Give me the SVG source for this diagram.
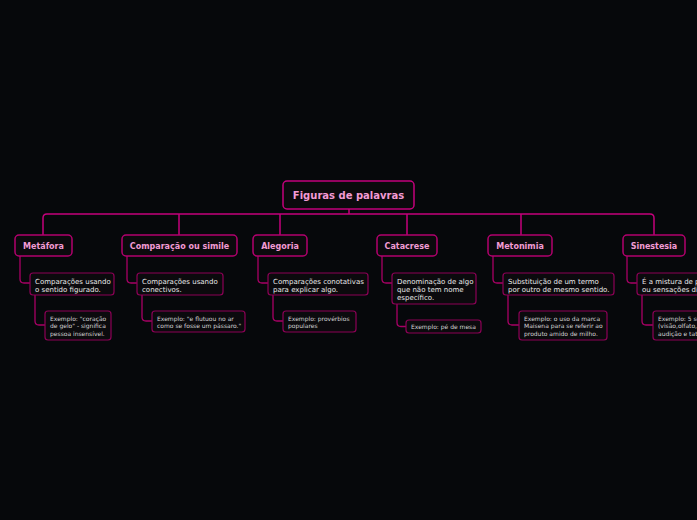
<svg xmlns="http://www.w3.org/2000/svg" width="697" height="520" viewBox="0 0 697 520">
<style>
.bg{fill:#06080b}
.root{fill:#0b0a0d;stroke:#c4007c;stroke-width:1.5}
.main{fill:#0b0a0d;stroke:#b3006e;stroke-width:1.5}
.sub{fill:#0b0a0d;stroke:#8c0056;stroke-width:1.2}
.t-root{font-family:"DejaVu Sans",Verdana,sans-serif;font-weight:bold;font-size:10px;fill:#f29bd4;text-anchor:middle}
.t-main{font-family:"DejaVu Sans",Verdana,sans-serif;font-weight:bold;font-size:8px;fill:#f29bd4;text-anchor:middle}
.t-sub{font-family:"DejaVu Sans",Verdana,sans-serif;font-size:7px;fill:#e8e8e8}
.t-ex{font-family:"DejaVu Sans",Verdana,sans-serif;font-size:6px;fill:#d4d4d4}
.c1{fill:none;stroke:#c4007c;stroke-width:1.5}
.c2{fill:none;stroke:#a80066;stroke-width:1.3}
</style>
<rect class="bg" x="0" y="0" width="697" height="520"/>
<g id="connectors">
<path class="c1" d="M349,209 V214"/>
<path class="c1" d="M43,235 V218 Q43,214 47,214 H650 Q654,214 654,218 V235"/>
<path class="c1" d="M179,214 V235 M280,214 V235 M407,214 V235 M521,214 V235"/>
<path class="c2" d="M20,256 V279 Q20,283 24,283 H30"/>
<path class="c2" d="M127,256 V279 Q127,283 131,283 H137"/>
<path class="c2" d="M258,256 V279 Q258,283 262,283 H268"/>
<path class="c2" d="M382,256 V279 Q382,283 386,283 H392"/>
<path class="c2" d="M493,256 V279 Q493,283 497,283 H503"/>
<path class="c2" d="M627,256 V279 Q627,283 631,283 H637"/>
<path class="c2" d="M35,295 V321 Q35,325 39,325 H45"/>
<path class="c2" d="M142,295 V317 Q142,321 146,321 H152"/>
<path class="c2" d="M273,295 V317 Q273,321 277,321 H283"/>
<path class="c2" d="M397,304 V322.5 Q397,326.5 401,326.5 H406"/>
<path class="c2" d="M508,295 V321 Q508,325 512,325 H519"/>
<path class="c2" d="M642,295 V321 Q642,325 646,325 H653"/>
</g>
<g id="root">
<rect class="root" x="283" y="181" width="131" height="28" rx="4"/>
<text class="t-root" x="348.5" y="198.5">Figuras de palavras</text>
</g>
<g id="metafora">
<rect class="main" x="15" y="235" width="57" height="21" rx="4"/>
<text class="t-main" x="43.5" y="248.5">Metáfora</text>
</g>
<g id="comparacao">
<rect class="main" x="122" y="235" width="115" height="21" rx="4"/>
<text class="t-main" x="179.5" y="248.5">Comparação ou simile</text>
</g>
<g id="alegoria">
<rect class="main" x="253" y="235" width="54" height="21" rx="4"/>
<text class="t-main" x="280" y="248.5">Alegoria</text>
</g>
<g id="catacrese">
<rect class="main" x="377" y="235" width="60" height="21" rx="4"/>
<text class="t-main" x="407" y="248.5">Catacrese</text>
</g>
<g id="metonimia">
<rect class="main" x="488" y="235" width="64" height="21" rx="4"/>
<text class="t-main" x="520" y="248.5">Metonimia</text>
</g>
<g id="sinestesia">
<rect class="main" x="623" y="235" width="62" height="21" rx="4"/>
<text class="t-main" x="654" y="248.5">Sinestesia</text>
</g>
<g id="metafora-def">
<rect class="sub" x="30" y="273" width="84" height="22" rx="3"/>
<text class="t-sub" x="35" y="283.5">Comparações usando</text>
<text class="t-sub" x="35" y="291.5">o sentido figurado.</text>
</g>
<g id="comparacao-def">
<rect class="sub" x="137" y="273" width="86" height="22" rx="3"/>
<text class="t-sub" x="142" y="283.5">Comparações usando</text>
<text class="t-sub" x="142" y="291.5">conectivos.</text>
</g>
<g id="alegoria-def">
<rect class="sub" x="268" y="273" width="100" height="22" rx="3"/>
<text class="t-sub" x="273" y="283.5">Comparações conotativas</text>
<text class="t-sub" x="273" y="291.5">para explicar algo.</text>
</g>
<g id="catacrese-def">
<rect class="sub" x="392" y="273" width="84" height="31" rx="3"/>
<text class="t-sub" x="397" y="283.5">Denominação de algo</text>
<text class="t-sub" x="397" y="291.5">que não tem nome</text>
<text class="t-sub" x="397" y="299.5">específico.</text>
</g>
<g id="metonimia-def">
<rect class="sub" x="503" y="273" width="111" height="22" rx="3"/>
<text class="t-sub" x="508" y="283.5">Substituição de um termo</text>
<text class="t-sub" x="508" y="291.5">por outro de mesmo sentido.</text>
</g>
<g id="sinestesia-def">
<rect class="sub" x="637" y="273" width="110" height="22" rx="3"/>
<text class="t-sub" x="642" y="283.5">É a mistura de planos</text>
<text class="t-sub" x="642" y="291.5">ou sensações diferentes.</text>
</g>
<g id="metafora-ex">
<rect class="sub" x="45" y="311" width="66" height="29" rx="3"/>
<text class="t-ex" x="50" y="320.5">Exemplo: "coração</text>
<text class="t-ex" x="50" y="328">de gelo" - significa</text>
<text class="t-ex" x="50" y="335.5">pessoa insensível.</text>
</g>
<g id="comparacao-ex">
<rect class="sub" x="152" y="311" width="93" height="21" rx="3"/>
<text class="t-ex" x="157" y="320.5">Exemplo: "e flutuou no ar</text>
<text class="t-ex" x="157" y="328">como se fosse um pássaro."</text>
</g>
<g id="alegoria-ex">
<rect class="sub" x="283" y="311" width="73" height="21" rx="3"/>
<text class="t-ex" x="288" y="320.5">Exemplo: provérbios</text>
<text class="t-ex" x="288" y="328">populares</text>
</g>
<g id="catacrese-ex">
<rect class="sub" x="406" y="320" width="75" height="13" rx="3"/>
<text class="t-ex" x="411" y="328.5">Exemplo: pé de mesa</text>
</g>
<g id="metonimia-ex">
<rect class="sub" x="519" y="311" width="88" height="29" rx="3"/>
<text class="t-ex" x="524" y="320.5">Exemplo: o uso da marca</text>
<text class="t-ex" x="524" y="328">Maisena para se referir ao</text>
<text class="t-ex" x="524" y="335.5">produto amido de milho.</text>
</g>
<g id="sinestesia-ex">
<rect class="sub" x="653" y="311" width="90" height="29" rx="3"/>
<text class="t-ex" x="658" y="320.5">Exemplo: 5 sentidos</text>
<text class="t-ex" x="658" y="328">(visão,olfato, paladar,</text>
<text class="t-ex" x="658" y="335.5">audição e tato).</text>
</g>
</svg>
